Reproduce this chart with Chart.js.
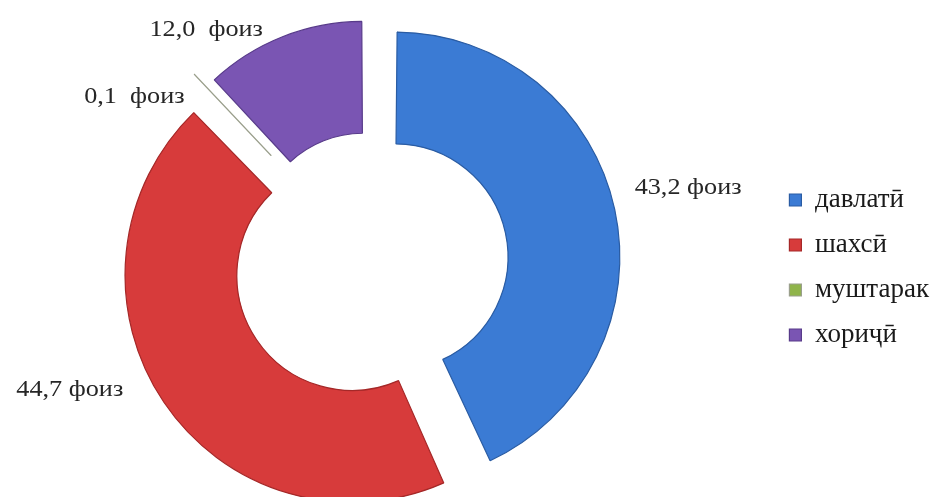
<!DOCTYPE html>
<html>
<head>
<meta charset="utf-8">
<script src="https://cdn.jsdelivr.net/npm/chart.js@4/dist/chart.umd.min.js"></script>
<style>
  html, body { margin: 0; padding: 0; background: #ffffff; }
  #wrap { width: 939px; height: 497px; position: relative; }
  canvas { display: block; }
</style>
</head>
<body>
<div id="wrap"><canvas id="c" width="939" height="497"></canvas></div>
<script>
// ---- data ----
const categories = ['давлатӣ', 'шахсӣ', 'муштарак', 'хориҷӣ'];
const shares = [43.2, 44.7, 0.1, 12.0];
const valueLabels = ['43,2 фоиз', '44,7 фоиз', '0,1  фоиз', '12,0  фоиз'];

// ---- styles ----
const fillColors = ['#3b7bd4', '#d73b3b', '#8fb44a', '#7a55b3'];
const edgeColors = ['#2a5ca3', '#a52828', '#9a9f8c', '#583b8a'];
const labelFontFamily = '"Liberation Serif", "Times New Roman", serif';

// label placement: angle (deg, clockwise from 12 o'clock) and distance from doughnut centre
const labelAngle = [76.8, 247.0, 304.8, 324.5];
const labelDist = [325, 328, 289, 285];

// the plot area reaches a little past the left canvas edge (as in the original layout)
const plotShift = {
  id: 'plotShift',
  afterLayout(chart) {
    const a = chart.chartArea;
    a.left -= 28;
    a.width = a.right - a.left;
  }
};

const valueLabelPlugin = {
  id: 'valueLabels',
  afterDatasetsDraw(chart) {
    const meta = chart.getDatasetMeta(0);
    const ctx = chart.ctx;
    meta.data.forEach((arc, i) => {
      const a = labelAngle[i] * Math.PI / 180;
      const x = arc.x + labelDist[i] * Math.sin(a);
      const y = arc.y - labelDist[i] * Math.cos(a);
      ctx.save();
      ctx.translate(x, y);
      ctx.scale(1.14, 1);
      ctx.font = '23px ' + labelFontFamily;
      ctx.fillStyle = '#262626';
      ctx.textAlign = 'center';
      ctx.textBaseline = 'middle';
      ctx.fillText(valueLabels[i], 0, 0);
      ctx.restore();
    });
  }
};

new Chart(document.getElementById('c'), {
  type: 'doughnut',
  data: {
    labels: categories,
    datasets: [{
      data: shares,
      backgroundColor: fillColors,
      borderColor: edgeColors,
      borderWidth: 1.2,
      offset: 95,
      radius: 211,
      cutout: '47%'
    }]
  },
  options: {
    responsive: false,
    animation: false,
    layout: { padding: { left: 0, right: 0, top: 27, bottom: 0 } },
    plugins: {
      tooltip: { enabled: false },
      legend: {
        position: 'right',
        maxWidth: 168,
        title: { display: true, text: ' ', font: { size: 11, lineHeight: 1 }, padding: 0 },
        labels: {
          boxWidth: 12,
          boxHeight: 12,
          padding: 18,
          color: '#1a1a1a',
          font: { family: labelFontFamily, size: 27 }
        }
      }
    }
  },
  plugins: [plotShift, valueLabelPlugin]
});
</script>
</body>
</html>
